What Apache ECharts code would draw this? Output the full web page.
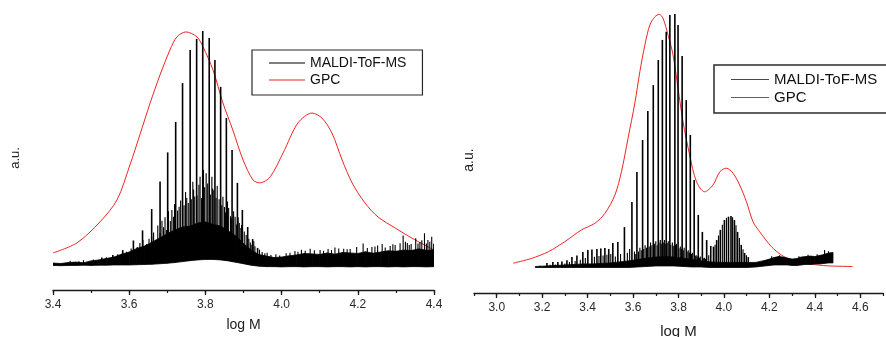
<!DOCTYPE html>
<html>
<head>
<meta charset="utf-8">
<script src="https://cdn.jsdelivr.net/npm/echarts@6/dist/echarts.min.js"></script>
<style>
  html, body { margin: 0; padding: 0; background: #fff; }
  #chart { width: 886px; height: 337px; }
</style>
</head>
<body>
<div id="chart"></div>
<script>
// ---------------- data ----------------
// Tick labels (log M)
const leftTicks  = [3.4, 3.6, 3.8, 4.0, 4.2, 4.4];
const rightTicks = [3.0, 3.2, 3.4, 3.6, 3.8, 4.0, 4.2, 4.4, 4.6];

// Left sample: GPC trace [log M, intensity]
const gpcLeft = [
  [3.400, 7.1], [3.463, 11.3], [3.523, 20.0], [3.568, 29.2], [3.602, 43.8], [3.628, 56.3],
  [3.655, 69.6], [3.681, 81.3], [3.707, 91.7], [3.725, 97.1], [3.749, 99.2], [3.778, 97.1],
  [3.794, 92.9], [3.820, 83.3], [3.846, 69.6], [3.872, 58.3], [3.899, 45.8], [3.925, 37.5],
  [3.943, 36.3], [3.970, 38.8], [4.004, 48.8], [4.043, 61.3], [4.080, 65.4], [4.106, 63.3],
  [4.132, 57.1], [4.159, 45.8], [4.185, 36.3], [4.219, 27.9], [4.253, 22.1], [4.298, 17.5],
  [4.342, 13.3], [4.400, 8.3]
];

// Left sample: MALDI oligomer series peaks [log M, intensity]
const maldiLeftMain = [
  [3.528, 5.2], [3.557, 6.3], [3.583, 8.3], [3.611, 12.3], [3.635, 16.5], [3.659, 25.4],
  [3.681, 36.9], [3.701, 49.0], [3.722, 61.7], [3.740, 77.9], [3.760, 91.7], [3.777, 96.3],
  [3.793, 99.6], [3.810, 96.7], [3.825, 87.5], [3.840, 76.3], [3.855, 63.3], [3.870, 50.0],
  [3.884, 36.3], [3.897, 25.0], [3.911, 17.9], [3.924, 12.9], [3.937, 9.2]
];
// Left sample: smaller MALDI signals (side series and noise spikes)
const maldiLeftMinor = [
  [3.445, 3.9], [3.468, 3.6], [3.480, 4.1], [3.506, 4.4], [3.540, 5.3], [3.570, 6.6],
  [3.593, 7.6], [3.605, 9.0], [3.621, 9.6], [3.628, 11.2], [3.636, 12.5], [3.646, 10.8],
  [3.652, 13.0], [3.659, 13.9], [3.664, 15.6], [3.670, 12.6], [3.675, 18.5], [3.681, 15.4],
  [3.686, 20.5], [3.690, 17.8], [3.694, 22.0], [3.698, 16.7], [3.703, 24.5], [3.708, 20.4],
  [3.712, 25.0], [3.716, 22.2], [3.719, 27.5], [3.727, 24.8], [3.731, 26.4], [3.735, 29.0],
  [3.744, 27.0], [3.748, 32.5], [3.751, 30.0], [3.755, 27.9], [3.763, 29.5], [3.767, 36.8],
  [3.769, 33.5], [3.772, 30.6], [3.778, 31.0], [3.783, 35.5], [3.786, 38.9], [3.790, 30.0],
  [3.795, 41.7], [3.798, 34.5], [3.802, 40.3], [3.806, 36.0], [3.813, 31.5], [3.817, 38.9],
  [3.819, 34.0], [3.822, 33.2], [3.828, 30.0], [3.831, 35.0], [3.836, 29.5], [3.843, 27.0],
  [3.846, 30.5], [3.850, 26.2], [3.853, 24.0], [3.858, 28.5], [3.861, 25.8], [3.866, 22.4],
  [3.869, 21.5], [3.874, 24.5], [3.878, 22.2], [3.882, 19.0], [3.886, 22.0], [3.889, 19.6],
  [3.893, 17.5], [3.895, 18.8], [3.902, 16.0], [3.907, 14.6], [3.914, 13.0], [3.918, 11.5],
  [3.922, 10.5], [3.927, 12.0], [3.930, 9.9], [3.942, 8.5], [3.949, 7.5], [3.956, 7.0],
  [3.962, 7.2], [3.972, 6.3], [3.985, 6.6], [3.995, 6.0], [4.012, 7.0], [4.022, 7.2],
  [4.035, 7.9], [4.043, 7.6], [4.052, 8.4], [4.062, 8.0], [4.075, 8.9], [4.086, 8.2],
  [4.101, 8.3], [4.110, 8.0], [4.122, 8.7], [4.131, 8.3], [4.140, 9.4], [4.150, 9.0],
  [4.163, 8.9], [4.172, 8.6], [4.180, 8.8], [4.197, 9.6], [4.214, 11.0], [4.225, 9.2],
  [4.237, 9.6], [4.245, 9.8], [4.252, 10.2], [4.264, 10.8], [4.272, 9.4], [4.285, 10.0],
  [4.292, 10.7], [4.298, 10.4], [4.311, 11.1], [4.319, 14.4], [4.325, 11.8], [4.330, 11.3],
  [4.335, 10.4], [4.340, 10.8], [4.352, 13.2], [4.358, 11.0], [4.363, 11.7], [4.368, 12.4],
  [4.375, 15.3], [4.380, 11.0], [4.384, 12.5], [4.389, 11.8], [4.394, 13.9], [4.399, 10.9]
];
// Left sample: dense unresolved signal band (positions, upper and lower edge)
const noiseXLeft = [
  3.40, 3.42, 3.44, 3.46, 3.48, 3.50, 3.52, 3.54, 3.56, 3.58, 3.60, 3.62, 3.64, 3.66, 3.68,
  3.70, 3.72, 3.74, 3.76, 3.78, 3.80, 3.82, 3.84, 3.86, 3.88, 3.90, 3.92, 3.94, 3.96, 3.98,
  4.00, 4.02, 4.04, 4.06, 4.08, 4.10, 4.12, 4.14, 4.16, 4.18, 4.20, 4.22, 4.24, 4.26, 4.28,
  4.30, 4.32, 4.34, 4.36, 4.38, 4.40
];
const noiseTopLeft = [
  2.9, 2.7, 3.1, 3.3, 3.0, 3.8, 4.2, 4.8, 5.4, 6.6, 7.5, 9.0, 10.0, 11.6, 13.3,
  15.2, 16.7, 17.9, 18.3, 19.6, 20.0, 19.0, 18.3, 16.3, 14.2, 11.0, 8.3, 6.5, 5.8, 5.2,
  5.4, 5.9, 6.3, 6.9, 6.7, 6.5, 7.1, 6.6, 7.3, 7.1, 6.9, 7.6, 7.0, 7.5, 8.0,
  7.8, 8.3, 8.1, 8.8, 8.2, 8.4
];
const noiseFloorLeft = [
  1.9, 1.8, 1.9, 1.9, 2.0, 1.9, 2.0, 2.0, 2.1, 2.1, 2.1, 2.2, 2.3, 2.4, 2.6,
  2.8, 3.1, 3.5, 3.9, 4.2, 4.4, 4.4, 4.2, 3.8, 3.2, 2.6, 2.0, 1.6, 1.4, 1.4,
  1.3, 1.4, 1.4, 1.3, 1.4, 1.4, 1.3, 1.4, 1.4, 1.3, 1.4, 1.3, 1.4, 1.4, 1.3,
  1.4, 1.3, 1.4, 1.4, 1.3, 1.4
];

// Right sample: GPC trace
const gpcRight = [
  [3.073, 1.9], [3.154, 3.8], [3.227, 6.4], [3.300, 10.4], [3.373, 15.0],
  [3.432, 17.6], [3.476, 21.5], [3.520, 28.7], [3.549, 37.9], [3.578, 51.1], [3.608, 65.0],
  [3.630, 77.3], [3.652, 87.8], [3.674, 95.7], [3.696, 98.9], [3.715, 99.9], [3.732, 98.3],
  [3.754, 91.7], [3.776, 83.9], [3.798, 70.7], [3.820, 57.6], [3.849, 44.5], [3.879, 34.0],
  [3.915, 30.0], [3.952, 32.7], [3.982, 37.9], [4.011, 39.3], [4.040, 37.3], [4.069, 32.7],
  [4.099, 26.1], [4.128, 18.2], [4.157, 14.3], [4.209, 8.4], [4.253, 5.1], [4.297, 3.1],
  [4.355, 1.9], [4.413, 1.2], [4.465, 0.8], [4.566, 0.6]
];
// Right sample: MALDI oligomer series peaks
const maldiRightMain = [
  [3.221, 2.0], [3.247, 2.4], [3.269, 2.4], [3.287, 2.6], [3.309, 3.1], [3.331, 4.3],
  [3.353, 4.9], [3.379, 6.3], [3.401, 7.1], [3.419, 7.3], [3.441, 7.5], [3.458, 7.7],
  [3.476, 7.9], [3.493, 7.5], [3.511, 9.8], [3.533, 10.2], [3.562, 16.1], [3.595, 26.0],
  [3.617, 37.8], [3.642, 50.4], [3.665, 61.8], [3.689, 72.0], [3.711, 81.9], [3.729, 89.8],
  [3.746, 93.0], [3.762, 99.6], [3.784, 100.0], [3.798, 95.7], [3.816, 83.5], [3.834, 66.1],
  [3.852, 52.4], [3.869, 34.6], [3.887, 20.9], [3.905, 14.2], [3.924, 11.0], [3.942, 8.7],
  [3.954, 8.4], [3.968, 11.0], [3.984, 15.0], [4.002, 18.9], [4.020, 20.2], [4.031, 20.5],
  [4.046, 18.9], [4.060, 14.2], [4.076, 9.1], [4.091, 5.9], [4.107, 4.3]
];
// Right sample: smaller MALDI signals
const maldiRightMinor = [
  [3.190, 0.9], [3.235, 1.3], [3.258, 1.4], [3.300, 1.8], [3.320, 2.4], [3.345, 2.8],
  [3.368, 3.2], [3.390, 3.9], [3.430, 4.4], [3.450, 4.7], [3.468, 4.9], [3.485, 5.2],
  [3.502, 5.5], [3.522, 4.5], [3.545, 5.5], [3.575, 6.0], [3.585, 7.5], [3.606, 6.5],
  [3.612, 5.5], [3.624, 6.5], [3.630, 8.0], [3.636, 7.0], [3.647, 7.5], [3.653, 9.0],
  [3.659, 8.0], [3.671, 8.5], [3.677, 10.0], [3.683, 9.0], [3.694, 9.5], [3.700, 10.5],
  [3.706, 9.0], [3.714, 10.0], [3.720, 11.0], [3.724, 9.5], [3.733, 10.0], [3.738, 11.0],
  [3.744, 9.5], [3.750, 9.8], [3.755, 10.5], [3.766, 9.2], [3.773, 10.0], [3.779, 8.8],
  [3.787, 9.0], [3.791, 9.5], [3.802, 7.8], [3.808, 8.5], [3.813, 7.5], [3.821, 7.0],
  [3.825, 8.0], [3.838, 6.5], [3.843, 7.0], [3.848, 6.0], [3.857, 5.5], [3.861, 6.0],
  [3.874, 4.8], [3.878, 5.0], [3.883, 4.5], [3.892, 4.0], [3.896, 4.5], [3.909, 3.8],
  [3.914, 4.0], [3.919, 3.6], [3.933, 5.0], [3.961, 9.2], [3.976, 12.8], [3.993, 17.0],
  [4.011, 19.8], [4.038, 20.0], [4.053, 16.8], [4.068, 11.8], [4.084, 7.4], [4.099, 5.0],
  [4.210, 4.6], [4.245, 5.0], [4.330, 4.6], [4.370, 5.2], [4.410, 5.4], [4.443, 7.1],
  [4.460, 6.6]
];
// Right sample: dense unresolved signal band
const noiseXRight = [
  3.17, 3.22, 3.26, 3.30, 3.34, 3.38, 3.42, 3.46, 3.50, 3.54,
  3.58, 3.62, 3.66, 3.70, 3.74, 3.78, 3.82, 3.86, 3.90, 3.94,
  3.98, 4.02, 4.06, 4.10, 4.14, 4.18, 4.20, 4.22, 4.24, 4.26,
  4.28, 4.30, 4.32, 4.34, 4.36, 4.38, 4.40, 4.42, 4.44, 4.46,
  4.48
];
const noiseTopRight = [
  0.6, 0.8, 1.0, 1.2, 1.4, 1.6, 1.6, 1.8, 2.0, 2.4,
  2.8, 3.3, 3.9, 4.3, 4.5, 4.3, 3.9, 3.3, 2.8, 2.4,
  2.2, 2.2, 2.2, 2.2, 2.2, 3.0, 3.5, 4.1, 4.5, 4.3,
  3.9, 3.5, 3.7, 4.3, 4.5, 4.7, 4.5, 4.9, 5.3, 5.9,
  6.1
];
const noiseFloorRight = [
  0.1, 0.2, 0.2, 0.2, 0.2, 0.2, 0.2, 0.2, 0.2, 0.2,
  0.2, 0.4, 0.6, 0.8, 0.8, 0.8, 0.6, 0.4, 0.4, 0.2,
  0.2, 0.2, 0.2, 0.2, 0.4, 0.8, 1.0, 1.2, 1.2, 1.2,
  1.2, 1.0, 1.0, 1.2, 1.4, 1.4, 1.6, 1.6, 1.8, 2.0,
  2.0
];

// ---------------- helpers ----------------
const FONT = "'Liberation Sans', Arial, Helvetica, sans-serif";
const RED = '#ee2424';

// lower edge of the signal band nearest to a given log M
function floorAt(xs, floors, x) {
  let best = 0, d = Infinity;
  xs.forEach((v, i) => { const dd = Math.abs(v - x); if (dd < d) { d = dd; best = i; } });
  return floors[best];
}
function spikes(peaks, xs, floors) {
  return peaks.map(([x, h]) => [x, floorAt(xs, floors, x) + 0.3, h]);
}
// band segments: [x0, floor0, top0, x1, floor1, top1]
function bandSegments(xs, top, floor) {
  const out = [];
  for (let i = 0; i < xs.length - 1; i++) {
    out.push([xs[i], floor[i], top[i], xs[i + 1], floor[i + 1], top[i + 1]]);
  }
  return out;
}
function renderBand(params, api) {
  const pts = [
    api.coord([api.value(0), api.value(1)]),
    api.coord([api.value(0), api.value(2)]),
    api.coord([api.value(3), api.value(5)]),
    api.coord([api.value(3), api.value(4)])
  ];
  return { type: 'polygon', shape: { points: pts }, style: { fill: '#000', stroke: '#000', lineWidth: 0.8 } };
}
function spikeRenderer(width) {
  return function (params, api) {
    const a = api.coord([api.value(0), api.value(1)]);
    const b = api.coord([api.value(0), api.value(2)]);
    return {
      type: 'line',
      shape: { x1: a[0], y1: a[1], x2: b[0], y2: b[1] },
      style: { stroke: '#000', lineWidth: width }
    };
  };
}
function panelSeries(idx, gpc, main, minor, xs, top, floor) {
  return [
    {
      type: 'line', name: 'GPC', xAxisIndex: idx * 2, yAxisIndex: idx,
      data: gpc, symbol: 'none', smooth: 0.3,
      lineStyle: { color: RED, width: 1 }, itemStyle: { color: RED }, z: 2
    },
    {
      type: 'custom', name: 'MALDI-ToF-MS', xAxisIndex: idx * 2, yAxisIndex: idx,
      data: bandSegments(xs, top, floor), encode: { x: [0, 3], y: [1, 2, 4, 5] },
      renderItem: renderBand, clip: true, z: 3
    },
    {
      type: 'custom', name: 'MALDI-ToF-MS', xAxisIndex: idx * 2, yAxisIndex: idx,
      data: spikes(minor, xs, floor), encode: { x: 0, y: [1, 2] },
      renderItem: spikeRenderer(1.1), clip: true, z: 4
    },
    {
      type: 'custom', name: 'MALDI-ToF-MS', xAxisIndex: idx * 2, yAxisIndex: idx,
      data: spikes(main, xs, floor), encode: { x: 0, y: [1, 2] },
      renderItem: spikeRenderer(1.6), clip: true, z: 4
    }
  ];
}
function majorAxis(grid, min, max, ticks, offset, margin, nameGap, nameSize) {
  return {
    type: 'value', gridIndex: grid, min: min, max: max, position: 'bottom', offset: offset,
    axisLine: { show: true, onZero: false, lineStyle: { color: '#1a1a1a', width: 1.3 } },
    axisTick: { show: true, inside: false, length: 5, customValues: ticks,
                lineStyle: { color: '#1a1a1a', width: 1.3 } },
    axisLabel: { show: true, customValues: ticks, margin: margin, fontSize: 12,
                 color: '#2a2a2a', fontFamily: FONT, formatter: v => v.toFixed(1) },
    splitLine: { show: false },
    name: 'log M', nameLocation: 'middle', nameGap: nameGap,
    nameTextStyle: { fontSize: nameSize, color: '#222', fontFamily: FONT }
  };
}
function minorAxis(grid, min, max, offset) {
  return {
    type: 'value', gridIndex: grid, min: min, max: max, interval: 0.1, position: 'bottom', offset: offset,
    axisLine: { show: false, onZero: false },
    axisTick: { show: true, length: 3, lineStyle: { color: '#1a1a1a', width: 1.2 } },
    axisLabel: { show: false }, splitLine: { show: false }
  };
}
function legendBox(left, top, padding, itemWidth, fontSize, maldiColor, borderWidth) {
  return {
    orient: 'vertical', left: left, top: top, padding: padding, itemGap: 3,
    itemWidth: itemWidth, itemHeight: 1.2, selectedMode: false,
    borderColor: '#2a2a2a', borderWidth: borderWidth, borderRadius: 0,
    textStyle: { fontSize: fontSize, color: '#111', fontFamily: FONT },
    data: [
      { name: 'MALDI-ToF-MS', icon: 'rect', itemStyle: { color: maldiColor } },
      { name: 'GPC', icon: 'rect', itemStyle: { color: RED } }
    ]
  };
}

// ---------------- chart ----------------
const chart = echarts.init(document.getElementById('chart'), null, { renderer: 'canvas' });
chart.setOption({
  animation: false,
  backgroundColor: '#fff',
  grid: [
    { left: 53, top: 30, width: 381, height: 240, outerBoundsMode: 'none', containLabel: false },
    { left: 474, top: 14, width: 409, height: 254, outerBoundsMode: 'none', containLabel: false }
  ],
  xAxis: [
    majorAxis(0, 3.4, 4.4, leftTicks, 20, 9, 28, 14),
    minorAxis(0, 3.4, 4.4, 20),
    majorAxis(1, 2.9, 4.7, rightTicks, 25, 9, 31, 15),
    minorAxis(1, 2.9, 4.7, 25)
  ],
  yAxis: [
    { type: 'value', gridIndex: 0, min: 0, max: 100, show: false },
    { type: 'value', gridIndex: 1, min: 0, max: 100, show: false }
  ],
  legend: [
    legendBox(252, 50, [6, 16, 8, 17], 36, 14, '#000', 1.2),
    legendBox(714, 65, [7, 30, 8, 17], 38, 15, '#4a4a4a', 1.5)
  ],
  graphic: [
    { type: 'text', x: 15, y: 158, rotation: Math.PI / 2,
      style: { text: 'a.u.', font: '13px ' + FONT, fill: '#222',
               textAlign: 'center', textVerticalAlign: 'middle', align: 'center', verticalAlign: 'middle' } },
    { type: 'text', x: 469, y: 160, rotation: Math.PI / 2,
      style: { text: 'a.u.', font: '14px ' + FONT, fill: '#222',
               textAlign: 'center', textVerticalAlign: 'middle', align: 'center', verticalAlign: 'middle' } }
  ],
  series: [].concat(
    panelSeries(0, gpcLeft, maldiLeftMain, maldiLeftMinor, noiseXLeft, noiseTopLeft, noiseFloorLeft),
    panelSeries(1, gpcRight, maldiRightMain, maldiRightMinor, noiseXRight, noiseTopRight, noiseFloorRight)
  )
});
</script>
</body>
</html>
